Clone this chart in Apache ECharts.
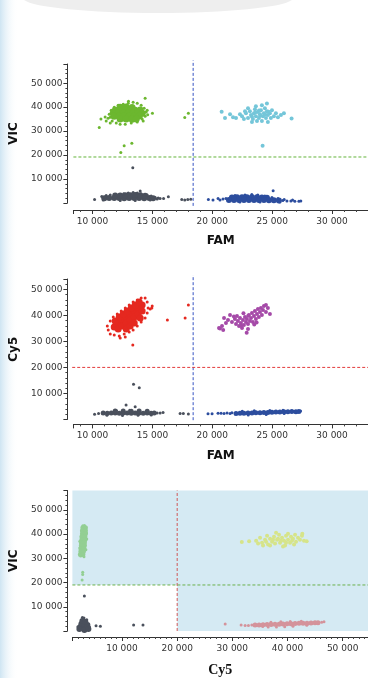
<!DOCTYPE html>
<html>
<head>
<meta charset="utf-8">
<style>
  html, body { margin: 0; padding: 0; background: #fff; }
  #chart { width: 368px; height: 678px; }
</style>
<script src="https://cdn.jsdelivr.net/npm/echarts@6/dist/echarts.min.js"></script>
</head>
<body>
<div id="chart"></div>
<script>
// ---- panel 1: FAM (x) vs VIC (y) ----
const p1VicCore = [[12300,40000],[12800,40100],[13300,39900],
  [11900,38700],[12300,38800],[12700,38750],[13150,38800],[13550,38700],[13980,38800],
  [11720,37500],[12150,37450],[12560,37550],[12980,37500],[13400,37450],[13800,37550],[14150,37500],
  [11800,36250],[12230,36200],[12640,36300],[13060,36250],[13480,36200],[13900,36300],
  [12300,35000],[12800,35050],[13300,34950],[13650,35000]];
const p1VicSparse = [[11300,35400],[11140,34170],[11480,33330],[11640,34170],[11980,33330],[12300,32900],
  [12730,32900],[13230,33330],[13730,33750],[14140,35000],[14390,36250],[14480,37920],[14310,39580],
  [14060,40830],[13730,41670],[13390,42080],[12980,41670],[12560,41250],[12140,40830],[11810,40000],
  [11560,38750],[11390,37080],[11480,35830],[14560,38750],[14230,34170],[14390,43750],[10700,35000],
  [10560,31500],[15000,37400],[17700,35700],[18000,37400],[12640,23900],[12360,21100],[13280,24900],
  [11050,35900],[14600,36800],[13000,42500]];
const p1NegCore = [[10980,2000],[11390,2100],[11810,2050],[12230,2100],[12640,2000],[13060,2100],
  [13480,2050],[13890,2100],[14310,2000],[14730,2050],[15060,1950],
  [11890,3100],[12310,3150],[12730,3200],[13140,3250],[13560,3300],[13980,3200],[14390,3000]];
const p1NegSparse = [[10770,2700],[11140,3120],[11480,3330],[12980,4170],[13390,4380],[13730,4170],
  [14060,3750],[14560,3330],[14890,2920],[15230,2290],[15480,2080],[15640,1870],[10890,1250],
  [14810,1250],[12310,1000],[13560,1000],[10170,1500],[15390,1700],[15930,1900],[16330,2600],
  [17450,1500],[17700,1250],[17950,1500],[18200,1600],[13980,5000],[13360,14700],[12600,3900]];
const p1FamCore = [[21640,2300],[22060,2350],[22480,2400],[22890,2450],[23310,2400],[23730,2350],
  [24140,2300],[24560,2200],
  [21390,1250],[21810,1300],[22230,1250],[22640,1300],[23060,1250],[23480,1200],[23890,1250],
  [24310,1200],[24730,1150],[25140,1100],[25560,1050]];
const p1FamSparse = [[25890,1040],[26230,830],[26560,830],[26890,710],[27230,750],[27390,830],
  [21890,3130],[22730,3330],[23300,3540],[23800,3330],[24390,2920],[24980,2290],[25480,1880],
  [19670,1460],[20060,1250],[20480,1880],[20640,1250],[20890,1670],[21140,1880],[22300,420],
  [23980,420],[25640,420],[25080,5100],[26000,1500],[26700,1250]];
const p1BothPos = [[22480,36250],[22810,37500],[22980,35420],[23140,38330],[23230,36670],[23390,35000],
  [23480,37500],[23560,39170],[23640,36250],[23810,37920],[23890,35420],[23980,37080],[24060,38750],
  [24140,34170],[24230,36250],[24310,37500],[24390,39580],[24480,35420],[24560,38330],[24640,36670],
  [24810,37500],[24890,35420],[24980,38750],[25140,36250],[25310,37500],[23310,33750],[23730,34170],
  [22640,35000],[22310,37080],[21980,35420],[21730,35830],[25480,35830],[24140,40830],[23640,40420],
  [24640,33750],[22980,39580],[21480,37080],[20780,38040],[21060,35420],[26620,35290],[24560,41540],
  [24200,23880],[25730,36670],[25980,37500],[22730,38330],[23600,37900],[24000,36400],[24400,37000],
  [23300,36100],[24700,38100],[23900,38600]];

// ---- panel 2: FAM (x) vs Cy5 (y) ----
const p2CyCore = [[11810,35500],[12140,37040],[12480,38190],[12810,39350],[13140,40500],[13480,41650],
  [13810,42810],[14140,43960],
  [12140,34730],[12480,35880],[12810,37040],[13140,38190],[13480,39350],[13810,40500],[14140,41650],
  [11890,37810],[12230,39350],[12560,40500],[12890,41650],[13230,42810],[13560,43960],[13890,45120],
  [12810,34730],[13140,35880],[13480,37040],[13980,38960]];
const p2CySparse = [[11310,34350],[11230,35880],[11480,32810],[11810,32420],[12230,32040],[12640,32810],
  [13060,33580],[13390,34350],[13730,35880],[14060,37420],[14390,38960],[14560,40880],[14640,42810],
  [14560,45120],[14390,46650],[14060,46650],[13730,45880],[13390,45120],[13060,43960],[12730,42810],
  [12390,41650],[12060,40500],[11730,39350],[11480,37810],[14810,42420],[14980,43580],[12310,31270],
  [12730,31650],[13360,28600],[16250,38200],[17730,39000],[18000,44000],[14950,42800]];
const p2NegCore = [[10890,2420],[11230,2400],[11560,2450],[11890,2420],[12230,2380],[12560,2450],
  [12890,2420],[13230,2400],[13560,2450],[13890,2420],[14230,2380],[14560,2420],[14890,2400],[15150,2420],
  [11890,3190],[12560,3190],[13230,3150],[13890,3190],[14560,3100]];
const p2NegSparse = [[10170,2000],[10500,2300],[15390,2420],[15640,2420],[15890,2620],[17310,2300],
  [17580,2300],[18000,2040],[13420,13500],[13900,12150],[12800,5500],[13560,4850],[11200,1600],
  [12500,1500],[13800,1600],[14600,3300],[12000,3300],[13100,3500],[14900,1700]];
const p2FamCore = [[21980,2300],[22310,2400],[22640,2350],[22980,2500],[23310,2450],[23640,2600],
  [23980,2550],[24310,2700],[24640,2650],[24980,2750],[25310,2850],[25640,2800],[25980,2900],
  [26310,2950],[26640,3050],[26980,2950],[27230,3000]];
const p2FamSparse = [[19640,2200],[19980,2200],[20480,2350],[20730,2400],[20980,2250],[21230,2450],
  [21480,2300],[21640,2550],[22500,3100],[23500,3300],[24800,3400],[25900,3500],[23000,1700],
  [24500,1900],[26000,2300],[27370,3200]];
const p2BothPos = [[21640,37420],[21890,38580],[21980,36650],[22140,37810],[22230,35880],[22310,38960],
  [22390,37040],[22560,38190],[22640,36270],[22730,39350],[22810,37420],[22890,38580],[22980,36650],
  [23060,40120],[23140,37810],[23230,38960],[23310,40880],[23390,37420],[23480,39730],[23560,41650],
  [23640,38580],[23730,40500],[23810,42420],[23890,39350],[23980,41270],[24060,42810],[24140,40120],
  [24230,42040],[24310,43580],[24480,41270],[21310,38190],[21140,37040],[20810,35880],[20560,35120],
  [20980,38960],[21480,40120],[22060,39730],[22480,35120],[22980,34730],[24640,42810],[24480,43960],
  [24810,40500],[20640,35000],[20910,34350],[22870,33310],[22400,36000],[23000,39900],[23700,37300],
  [21800,39600],[22600,40800],[23500,36500]];

// ---- panel 3: Cy5 (x) vs VIC (y) ----
const p3VicCore = [[2900,42620],[3360,42620],[2820,41390],[3360,41390],[2820,40160],[3360,40160],
  [2720,38930],[3270,38930],[2720,37700],[3270,37700],[2630,36480],[3180,36480],[2630,35250],
  [3180,35250],[2540,34020],[3090,34020],[2540,32790],[3000,32790],[2450,31560],[2900,31560]];
const p3VicSparse = [[2900,43400],[3200,43600],[3550,40500],[3600,38000],[2350,37000],[2400,34500],
  [3450,33500],[2500,31000],[2870,24300],[2870,23360],[2760,21020],[3100,30700]];
const p3NegCore = [[2450,1640],[3000,1640],[3540,1640],[2630,2870],[3180,2870],[3720,2460],[2810,4100],
  [3360,3690],[2270,820],[3180,410],[3900,820]];
const p3NegSparse = [[2810,5530],[3090,5330],[3170,14500],[5290,2170],[6070,1930],[12100,2460],
  [13800,2460],[2000,1800],[4100,1600],[3600,4600]];
const p3BothPos = [[34310,37300],[35030,38520],[35390,36480],[35940,37700],[36300,39340],[36480,35660],
  [36840,38110],[37200,36890],[37560,38930],[37740,36070],[38110,37700],[38470,39750],[38650,36480],
  [39010,38520],[39380,37300],[39560,35250],[39740,39340],[40100,37700],[40460,36480],[40640,38930],
  [41000,38110],[41370,39750],[41550,36890],[41910,38520],[42270,37700],[42630,39340],[42990,37300],
  [36840,35250],[35570,35250],[34670,36070],[37930,40570],[40100,40160],[41190,35660],[39190,34840],
  [36120,36890],[38290,38110],[39740,36480],[40820,37300],[37380,37700],[38830,37300],[31720,36760],
  [33040,37010],[43480,37010],[42690,40160]];
const p3CyCore = [[34120,2460],[34850,2500],[35570,2600],[36300,2650],[37020,2700],[37740,2750],
  [38470,2800],[39190,2900],[39920,2950],[40640,3000],[41370,3100],[42090,3150],[42820,3200],
  [43540,3250],[44270,3350],[44990,3400],[45530,3450]];
const p3CySparse = [[28700,2870],[31590,2460],[32320,2300],[32920,2300],[33530,2460],[46200,3570],
  [46620,3810],[36500,1700],[38000,1600],[39500,1800],[41000,2000],[37000,3600],[38800,3800],
  [40500,3900],[42500,4000],[35500,1900],[43500,2400]];

// thresholds and the span each threshold line covers
const p1Thresholds = { x: 18400, y: 19200, xSpan: [8400, 33000], ySpan: [-1200, 59500] };
const p2Thresholds = { x: 18400, y: 20000, xSpan: [8300, 33000], ySpan: [-300, 55500] };
const p3Thresholds = { x: 20000, y: 19000, xSpan: [1000, 54600], ySpan: [0, 58000] };

const chart = echarts.init(document.getElementById('chart'), null, { renderer: 'canvas' });

const thousands = (v) => String(Math.round(v)).replace(/\B(?=(\d{3})+(?!\d))/g, ' ');
const labelFont = { fontFamily: 'DejaVu Sans', fontSize: 9, color: '#333' };
const nameFont = { fontFamily: 'DejaVu Sans', fontSize: 12, fontWeight: 'bold', color: '#111' };

function valueAxis(grid, min, max, offset, name, nameGap, minorSplit, margin, nameStyle) {
  return {
    type: 'value', gridIndex: grid, min, max, offset,
    name, nameLocation: 'middle', nameGap, nameTextStyle: nameStyle || nameFont,
    axisLine: { show: true, onZero: false, lineStyle: { color: '#333', width: 1 } },
    axisTick: { show: true, length: 4, lineStyle: { color: '#333' } },
    minorTick: { show: true, splitNumber: minorSplit, length: 2, lineStyle: { color: '#444' } },
    splitLine: { show: false },
    axisLabel: { ...labelFont, margin, showMinLabel: false, showMaxLabel: false, formatter: thousands }
  };
}

function dots(grid, data, color, size) {
  return {
    type: 'scatter', xAxisIndex: grid, yAxisIndex: grid, data, symbolSize: size,
    itemStyle: { color, opacity: 1 }, silent: true, animation: false, z: 3
  };
}

// dashed threshold lines as line series through the axis scales
function thresholdPair(grid, t, xColor, yColor) {
  const base = {
    type: 'line', xAxisIndex: grid, yAxisIndex: grid, symbol: 'none', silent: true,
    animation: false, clip: false, z: 4
  };
  return [
    { ...base, data: [[t.x, t.ySpan[0]], [t.x, t.ySpan[1]]],
      lineStyle: { color: xColor, type: [3, 2], width: 1 } },
    { ...base, data: [[t.xSpan[0], t.y], [t.xSpan[1], t.y]],
      lineStyle: { color: yColor, type: [3, 2], width: 1 } }
  ];
}

const gray = '#4a505c';
const blue = '#2c4d9e';

const option = {
  backgroundColor: '#fff',
  animation: false,
  graphic: [
    {
      type: 'rect', left: 0, top: 0, z: -10, silent: true,
      shape: { width: 18, height: 678 },
      style: { fill: new echarts.graphic.LinearGradient(0, 0, 1, 0, [
        { offset: 0, color: 'rgba(198,224,240,0.85)' },
        { offset: 1, color: 'rgba(255,255,255,0)' }
      ]) }
    },
    {
      type: 'ellipse', z: -10, silent: true,
      shape: { cx: 158, cy: -2, rx: 135, ry: 15 },
      style: { fill: '#eeeeee' }
    }
  ],
  grid: [
    { left: 73, width: 295, top: 64, height: 139 },
    { left: 73, width: 295, top: 279, height: 140.4 },
    { left: 72, width: 296, top: 490.5, height: 141.5 }
  ],
  xAxis: [
    valueAxis(0, 8400, 33000, 7, 'FAM', 25, 5, 7),
    valueAxis(1, 8400, 33000, 5, 'FAM', 25, 5, 7),
    valueAxis(2, 1000, 54600, 6, 'Cy5', 26, 10, 7,
      { fontFamily: 'Liberation Serif', fontSize: 14, fontWeight: 'bold', color: '#111' })
  ],
  yAxis: [
    valueAxis(0, 0, 58000, 6, 'VIC', 38, 5, 5),
    valueAxis(1, 0, 54000, 6, 'Cy5', 38, 5, 5),
    valueAxis(2, 0, 58000, 5, 'VIC', 38, 5, 5)
  ],
  series: [
    {
      type: 'scatter', xAxisIndex: 2, yAxisIndex: 2, data: [], silent: true, z: 1,
      markArea: {
        silent: true, animation: false, itemStyle: { color: '#d5eaf3' },
        data: [
          [{ xAxis: 1000, yAxis: p3Thresholds.y }, { xAxis: 54600, yAxis: 58000 }],
          [{ xAxis: p3Thresholds.x, yAxis: 0 }, { xAxis: 54600, yAxis: p3Thresholds.y }]
        ]
      }
    },
    dots(0, p1VicCore, '#6cb72f', 7),
    dots(0, p1VicSparse, '#6cb72f', 3),
    dots(0, p1NegCore, gray, 6),
    dots(0, p1NegSparse, gray, 3),
    dots(0, p1FamCore, blue, 6),
    dots(0, p1FamSparse, blue, 3),
    dots(0, p1BothPos, '#74c6d9', 4),
    ...thresholdPair(0, p1Thresholds, '#3553c2', '#63b43a'),

    dots(1, p2CyCore, '#e5281f', 7),
    dots(1, p2CySparse, '#e5281f', 3),
    dots(1, p2NegCore, gray, 5),
    dots(1, p2NegSparse, gray, 3),
    dots(1, p2FamCore, blue, 5),
    dots(1, p2FamSparse, blue, 3),
    dots(1, p2BothPos, '#a54aa8', 4),
    ...thresholdPair(1, p2Thresholds, '#3553c2', '#e23a3a'),

    dots(2, p3VicCore, '#93cf93', 5),
    dots(2, p3VicSparse, '#93cf93', 3),
    dots(2, p3NegCore, gray, 6),
    dots(2, p3NegSparse, gray, 3),
    dots(2, p3BothPos, '#d6e489', 4),
    dots(2, p3CyCore, '#d4939b', 5),
    dots(2, p3CySparse, '#d4939b', 3),
    ...thresholdPair(2, p3Thresholds, '#d05858', '#6ab04c')
  ]
};

chart.setOption(option);
window.addEventListener('resize', () => chart.resize());
</script>
</body>
</html>
